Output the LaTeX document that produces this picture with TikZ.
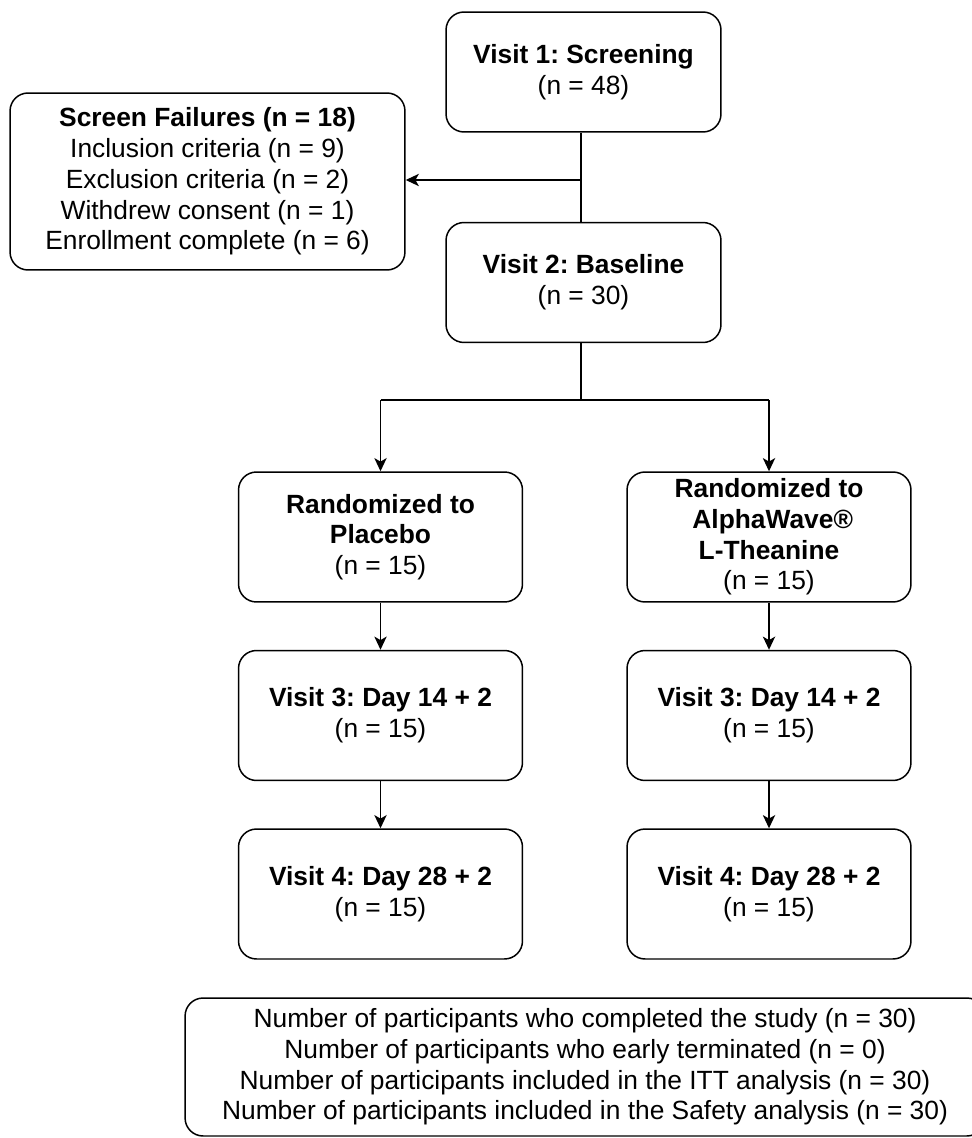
\documentclass[tikz,border=0pt]{standalone}
\usepackage{fontspec}
\setmainfont{Liberation Sans}
\usetikzlibrary{arrows.meta}
\frenchspacing

\begin{document}
\begin{tikzpicture}[x=0.02cm,y=-0.02cm,
  box/.style={draw, line width=0.85pt, rounded corners=0.36cm, align=center, inner sep=0pt,
    font=\fontsize{15}{17.5}\selectfont},
  visitbox/.style={box, minimum width=5.5cm, minimum height=2.4cm},
  armbox/.style={box, minimum width=5.68cm, minimum height=2.6cm},
  link/.style={line width=0.85pt},
  flow/.style={line width=0.85pt, -{Stealth[length=7.5pt,width=7pt,inset=2pt]}}]
\useasboundingbox (0,0) rectangle (972,1138);

\node[visitbox] (screening) at (583.5,72) {\textbf{Visit 1: Screening}\\(n = 48)};
\node[visitbox] (baseline) at (583.5,282.5) {\textbf{Visit 2: Baseline}\\(n = 30)};
\node[box, minimum width=7.9cm, minimum height=3.54cm] (failures) at (207.5,181.5)
  {\textbf{Screen Failures (n = 18)}\\Inclusion criteria (n = 9)\\Exclusion criteria (n = 2)\\Withdrew consent (n = 1)\\Enrollment complete (n = 6)};

\node[armbox] (placebo) at (380.5,537) {\textbf{Randomized to}\\\textbf{Placebo}\\(n = 15)};
\node[armbox] (alpha) at (769,537) {\textbf{Randomized to}\\\textbf{\ AlphaWave®}\\\textbf{L-Theanine}\\(n = 15)};
\node[armbox] (placeboD) at (380.5,715.5) {\textbf{Visit 3: Day 14 + 2}\\(n = 15)};
\node[armbox] (alphaD) at (769,715.5) {\textbf{Visit 3: Day 14 + 2}\\(n = 15)};
\node[armbox] (placeboE) at (380.5,894) {\textbf{Visit 4: Day 28 + 2}\\(n = 15)};
\node[armbox] (alphaE) at (769,894) {\textbf{Visit 4: Day 28 + 2}\\(n = 15)};

\node[box, minimum width=16cm, minimum height=2.76cm] (summary) at (585,1067)
  {Number of participants who completed the study (n = 30)\\Number of participants who early terminated (n = 0)\\Number of participants included in the ITT analysis (n = 30)\\Number of participants included in the Safety analysis (n = 30)};

\coordinate (exit) at (581,180);
\coordinate (fork) at (581,400);

\draw[link] (screening.south -| exit) -- (baseline.north -| exit);
\draw[flow] (exit) -- (exit -| failures.east);
\draw[link] (baseline.south -| fork) -- (fork);
\draw[link] (fork -| placebo) -- (fork -| alpha);
\draw[flow] (fork -| placebo) -- (placebo.north);
\draw[flow] (fork -| alpha) -- (alpha.north);
\draw[flow] (placebo) -- (placeboD);
\draw[flow] (alpha) -- (alphaD);
\draw[flow] (placeboD) -- (placeboE);
\draw[flow] (alphaD) -- (alphaE);
\end{tikzpicture}
\end{document}
